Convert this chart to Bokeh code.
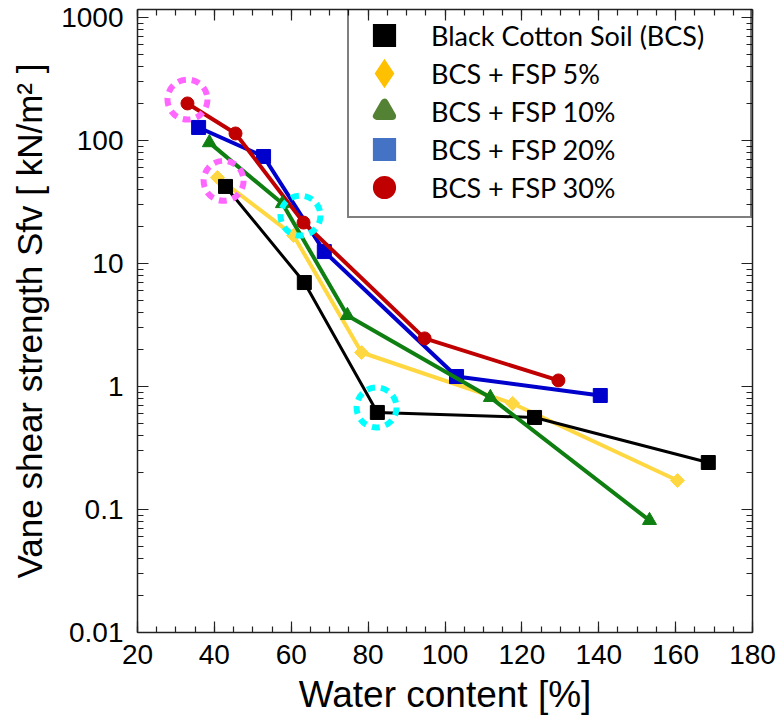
import numpy as np
from bokeh.plotting import figure
from bokeh.models import (FixedTicker, LinearAxis, LogAxis, Legend, LegendItem,
                          Range1d, CustomJSTickFormatter)
from bokeh.embed import file_html
from bokeh.resources import INLINE

# ---------------- data ----------------
bcs_x = [42.9, 63.4, 82.4, 123.3, 168.5]
bcs_y = [42.3, 7.0, 0.615, 0.56, 0.241]
fsp5_x = [40.8, 60.6, 78.3, 117.6, 160.5]
fsp5_y = [50.0, 16.9, 1.89, 0.728, 0.172]
fsp10_x = [38.7, 57.7, 74.6, 111.8, 153.2]
fsp10_y = [96.0, 30.7, 3.78, 0.815, 0.0815]
fsp20_x = [35.9, 52.8, 68.6, 103.0, 140.4]
fsp20_y = [127.6, 74.1, 12.5, 1.205, 0.845]
fsp30_x = [33.0, 45.5, 63.2, 94.7, 129.5]
fsp30_y = [200.0, 114.0, 21.5, 2.46, 1.12]

pink_ring_x = [33.0, 42.4]
pink_ring_y = [215.0, 47.0]
cyan_ring_x = [62.4, 82.2]
cyan_ring_y = [24.5, 0.675]

x_ticks = [20, 40, 60, 80, 100, 120, 140, 160, 180]
y_ticks = [0.01, 0.1, 1, 10, 100, 1000]
y_tick_labels = ["0.01", "0.1", "1", "10", "100", "1000"]

x_title = "Water content [%]"
y_title = "Vane shear strength Sfv [ kN/m\u00b2 ]"

legend_labels = ["Black Cotton Soil (BCS)", "BCS + FSP 5%", "BCS + FSP 10%",
                 "BCS + FSP 20%", "BCS + FSP 30%"]
legend_colors = ["#000000", "#FFC000", "#548235", "#4472C4", "#C00000"]
legend_markers = ["square", "diamond", "triangle", "square", "circle"]

# ---------------- figure ----------------
p = figure(width=779, height=721,
           x_range=Range1d(20, 180), y_range=Range1d(0.01, 1161),
           y_axis_type="log", output_backend="svg", toolbar_location=None,
           min_border_left=137, min_border_right=27, min_border_top=9,
           min_border_bottom=89)
p.outline_line_color = None
p.xgrid.visible = False
p.ygrid.visible = False
p.background_fill_color = "white"
p.border_fill_color = "white"

bottom_ax = p.below[0]
left_ax = p.left[0]

x_minor = list(range(20, 181, 5))
y_minor = [m * 10.0 ** e for e in range(-2, 3) for m in range(2, 10)]
xt = FixedTicker(ticks=x_ticks, minor_ticks=x_minor)
yt = FixedTicker(ticks=y_ticks, minor_ticks=y_minor)

top_ax = LinearAxis()
right_ax = LogAxis()
p.add_layout(top_ax, "above")
p.add_layout(right_ax, "right")

def style(ax, ticker, labels):
    ax.ticker = ticker
    ax.axis_line_color = "#222222"
    ax.axis_line_width = 1.5
    ax.major_tick_line_color = "#222222"
    ax.minor_tick_line_color = "#222222"
    ax.major_tick_line_width = 1.2
    ax.minor_tick_line_width = 1.2
    ax.major_tick_in = 11
    ax.major_tick_out = 0
    ax.minor_tick_in = 6
    ax.minor_tick_out = 0
    if labels:
        ax.major_label_text_font = "Liberation Sans"
        ax.major_label_text_font_size = "28px"
        ax.major_label_text_color = "black"
        ax.axis_label_text_font = "Liberation Sans"
        ax.axis_label_text_font_style = "normal"
        ax.axis_label_text_color = "black"
    else:
        ax.formatter = CustomJSTickFormatter(code="return ''")
        ax.major_label_text_font_size = "1px"
        ax.major_label_standoff = 0

style(bottom_ax, xt, True)
style(left_ax, yt, True)
style(top_ax, xt, False)
style(right_ax, yt, False)
bottom_ax.major_label_standoff = 12
left_ax.major_label_standoff = 14
left_ax.major_label_overrides = {t: s for t, s in zip(y_ticks, y_tick_labels)}

bottom_ax.axis_label = x_title
bottom_ax.axis_label_text_font_size = "37px"
bottom_ax.axis_label_standoff = 7
left_ax.axis_label = y_title
left_ax.axis_label_text_font_size = "35px"
left_ax.axis_label_standoff = 9

# ---------------- series ----------------
series = [
    (fsp5_x, fsp5_y, "#FFD740", 4, "square", 10, np.pi / 4),
    (bcs_x, bcs_y, "#000000", 3, "square", 14, 0),
    (fsp20_x, fsp20_y, "#0000CC", 4, "square", 14, 0),
    (fsp30_x, fsp30_y, "#C00000", 4, "circle", 13, 0),
    (fsp10_x, fsp10_y, "#0F7F12", 4, "triangle", 14, 0),
]
for sx, sy, col, lw, mk, sz, ang in series:
    p.line(sx, sy, line_color=col, line_width=lw)
    p.scatter(sx, sy, marker=mk, size=sz, angle=ang, fill_color=col, line_color=col)

# dashed highlight rings
p.scatter(pink_ring_x, pink_ring_y, marker="circle", size=40, fill_alpha=0,
          line_color="#FF66FF", line_width=6, line_dash="8 6")
p.scatter(cyan_ring_x, cyan_ring_y, marker="circle", size=40, fill_alpha=0,
          line_color="#00FFFF", line_width=6, line_dash="8 6")

# ---------------- legend ----------------
legend_data = [(bcs_x, bcs_y), (fsp5_x, fsp5_y), (fsp10_x, fsp10_y),
               (fsp20_x, fsp20_y), (fsp30_x, fsp30_y)]
joins = ["miter", "miter", "round", "miter", "round"]
items = []
for (lx, ly), lab, col, mk, jn in zip(legend_data, legend_labels, legend_colors,
                                       legend_markers, joins):
    r = p.scatter(lx, ly, marker=mk, size=16, fill_color=col, line_color=col,
                  line_width=8, line_join=jn, visible=False)
    items.append(LegendItem(label=lab, renderers=[r]))

legend = Legend(items=items, location=(210, 414), glyph_width=50, glyph_height=38,
                spacing=0, padding=10, margin=0, label_standoff=22, label_width=309,
                label_height=38, label_text_font="Lato", label_text_font_size="27px",
                label_text_color="black", border_line_color="black", border_line_width=2,
                background_fill_alpha=0)
p.add_layout(legend)

open("out.html", "w").write(file_html(p, INLINE))
